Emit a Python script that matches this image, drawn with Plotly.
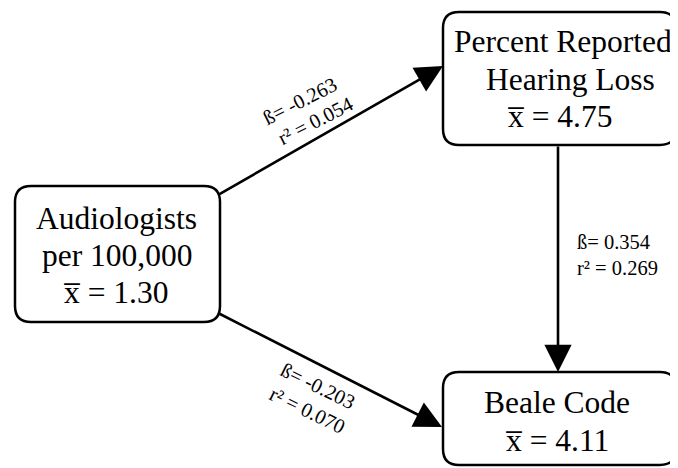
import plotly.graph_objects as go

# ---- data ----
node_lines = [["Audiologists", "per 100,000"], ["Percent Reported", "Hearing Loss"], ["Beale Code"]]
node_means = ["1.30", "4.75", "4.11"]
path_beta = ["-0.263", "0.354", "-0.203"]
path_r2 = ["0.054", "0.269", "0.070"]

# ---- layout (pixel coordinates of the 678x468 window) ----
W, H = 678, 468
OFF = 8  # page body margin
boxes = [(15, 186, 220, 322), (443, 12, 676, 145), (443, 372, 676, 465)]
# per-line text centres (x, y) for each node: name lines then mean line
line_pos = [
    [(116, 218), (117, 255), (116, 292)],
    [(563, 41), (570, 79), (560, 116)],
    [(557, 402), (557, 440)],
]
arrows = [((218, 195), (443, 66)), ((558, 145), (558, 372)), ((218, 313), (442, 427))]
label_pos = [
    [((300, 101), -27, "center"), ((315, 121), -27, "center")],
    [((575, 242), 0, "left"), ((575, 268), 0, "left")],
    [((318, 386), 26, "center"), ((307, 410), 26, "center")],
]

FONT = "Liberation Serif, Times New Roman, serif"


def rrect(x0, y0, x1, y1, r=16):
    return (f"M{x0+r},{y0} L{x1-r},{y0} Q{x1},{y0} {x1},{y0+r} "
            f"L{x1},{y1-r} Q{x1},{y1} {x1-r},{y1} L{x0+r},{y1} "
            f"Q{x0},{y1} {x0},{y1-r} L{x0},{y0+r} Q{x0},{y0} {x0+r},{y0} Z")


fig = go.Figure()
fig.add_trace(go.Scatter(x=[OFF, W], y=[OFF, H], mode="markers",
                         marker=dict(opacity=0), hoverinfo="skip", showlegend=False))

shapes = []
for (x0, y0, x1, y1) in boxes:
    shapes.append(dict(type="path", path=rrect(x0, y0, x1, y1), xref="x", yref="y",
                       line=dict(color="black", width=2.5), fillcolor="white", layer="below"))

annotations = []
for lines, mean, pos in zip(node_lines, node_means, line_pos):
    texts = lines + [f"x\u0305 = {mean}"]
    for t, (cx, cy) in zip(texts, pos):
        annotations.append(dict(x=cx, y=cy, xref="x", yref="y", showarrow=False,
                                text=t, font=dict(family=FONT, size=31.5, color="black"),
                                xanchor="center", yanchor="middle"))

for (tail, tip) in arrows:
    annotations.append(dict(x=tip[0], y=tip[1], ax=tail[0], ay=tail[1],
                            xref="x", yref="y", axref="x", ayref="y",
                            text="", showarrow=True, arrowhead=2, arrowsize=2.1,
                            arrowwidth=2.6, arrowcolor="black", standoff=0, startstandoff=0))

for b, r2, pos in zip(path_beta, path_r2, label_pos):
    for txt, ((px, py), ang, anc) in zip([f"ß= {b}", f"r² = {r2}"], pos):
        annotations.append(dict(x=px, y=py, xref="x", yref="y", showarrow=False,
                                text=txt, textangle=ang,
                                font=dict(family=FONT, size=20.5, color="black"),
                                xanchor=anc, yanchor="middle"))

fig.update_layout(
    width=W - OFF, height=H - OFF, margin=dict(l=0, r=0, t=0, b=0),
    paper_bgcolor="white", plot_bgcolor="white",
    xaxis=dict(range=[OFF, W], visible=False, fixedrange=True),
    yaxis=dict(range=[H, OFF], visible=False, fixedrange=True),
    shapes=shapes, annotations=annotations, showlegend=False,
)
fig.write_html("out.html")
